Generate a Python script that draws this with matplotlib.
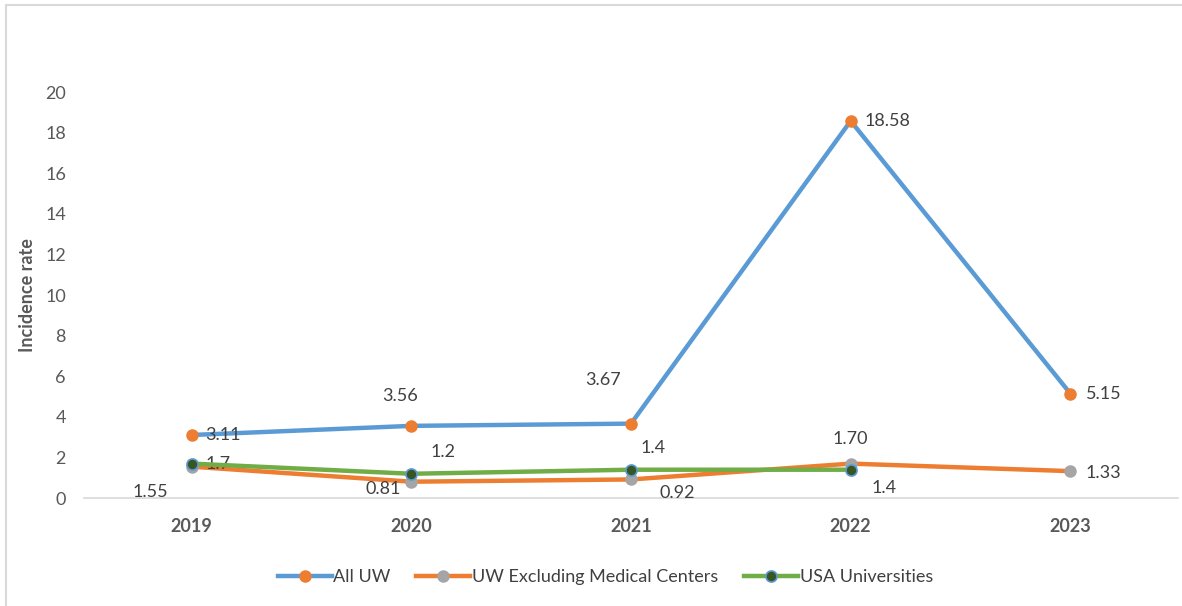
import numpy as np
import matplotlib.pyplot as plt
from matplotlib.patches import Rectangle

plt.rcParams['font.family'] = ['Lato', 'DejaVu Sans']

years = ['2019', '2020', '2021', '2022', '2023']
all_uw = [3.11, 3.56, 3.67, 18.58, 5.15]
uw_excl = [1.55, 0.81, 0.92, 1.70, 1.33]
usa_univ = [1.7, 1.2, 1.4, 1.4]

all_uw_labels = ['3.11', '3.56', '3.67', '18.58', '5.15']
uw_excl_labels = ['1.55', '0.81', '0.92', '1.70', '1.33']
usa_labels = ['1.7', '1.2', '1.4', '1.4']

BLUE = '#5B9BD5'
ORANGE = '#ED7D31'
GRAY = '#A5A5A5'
GREEN = '#70AD47'
DKGREEN = '#375623'
TXT = '#404040'

fig = plt.figure(figsize=(11.82, 6.06), dpi=100)
ax = fig.add_axes([0.0711, 0.178, 0.9255, 0.670])

x = np.arange(len(years))

ax.plot(x, all_uw, color=BLUE, lw=3.2, marker='o', ms=8,
        mfc=ORANGE, mec=ORANGE, label='All UW', clip_on=False, zorder=3)
ax.plot(x, uw_excl, color=ORANGE, lw=3.2, marker='o', ms=8,
        mfc=GRAY, mec=GRAY, label='UW Excluding Medical Centers', clip_on=False, zorder=3)
ax.plot(x[:len(usa_univ)], usa_univ, color=GREEN, lw=3.2, marker='o', ms=8,
        mfc=DKGREEN, mec=BLUE, mew=1.2, label='USA Universities', clip_on=False, zorder=4)

# data labels: offsets in points
all_off = [(10, 0, 'left', 'center'), (-8, 16, 'center', 'bottom'),
           (-20, 26, 'center', 'bottom'), (10, 0, 'left', 'center'),
           (11, 0, 'left', 'center')]
excl_off = [(-30, -18, 'center', 'center'), (-20, -5, 'center', 'center'),
            (33, -10, 'center', 'center'), (0, 12, 'center', 'bottom'),
            (11, -1, 'left', 'center')]
usa_off = [(10, 0, 'left', 'center'), (14, 10, 'left', 'bottom'),
           (7, 10, 'left', 'bottom'), (24, -13, 'center', 'center')]

for vals, labs, offs in [(all_uw, all_uw_labels, all_off),
                         (uw_excl, uw_excl_labels, excl_off),
                         (usa_univ, usa_labels, usa_off)]:
    for i, (v, t) in enumerate(zip(vals, labs)):
        dx, dy, ha, va = offs[i]
        ax.annotate(t, (i, v), xytext=(dx, dy), textcoords='offset points',
                    ha=ha, va=va, fontsize=13, color=TXT)

ax.set_xlim(-0.49, 4.49)
ax.set_ylim(0, 20)
ax.set_yticks(range(0, 21, 2))
ax.set_xticks(x)
ax.set_xticklabels(years, fontweight='bold')
ax.tick_params(axis='both', length=0, labelsize=13, colors='#595959')
ax.tick_params(axis='x', pad=14)
ax.tick_params(axis='y', pad=13)
for s in ['top', 'right', 'left']:
    ax.spines[s].set_visible(False)
ax.spines['bottom'].set_color('#D9D9D9')
ax.spines['bottom'].set_linewidth(1.2)

ax.set_ylabel('Incidence rate', fontsize=13, fontweight='bold', color='#595959')
ax.yaxis.set_label_coords(-0.044, 0.5)

fig.legend(loc='center', bbox_to_anchor=(0.512, 0.048), ncol=3, frameon=False,
           fontsize=13, handlelength=3, columnspacing=1.4, handletextpad=0.1,
           labelcolor='#404040')

fig.patches.append(Rectangle((6 / 1182, -0.1), 1.2, 0.1 + 1 - 5 / 606,
                             transform=fig.transFigure, fill=False,
                             edgecolor='#D9D9D9', lw=1.5))

fig.savefig('out.png', dpi=100)
